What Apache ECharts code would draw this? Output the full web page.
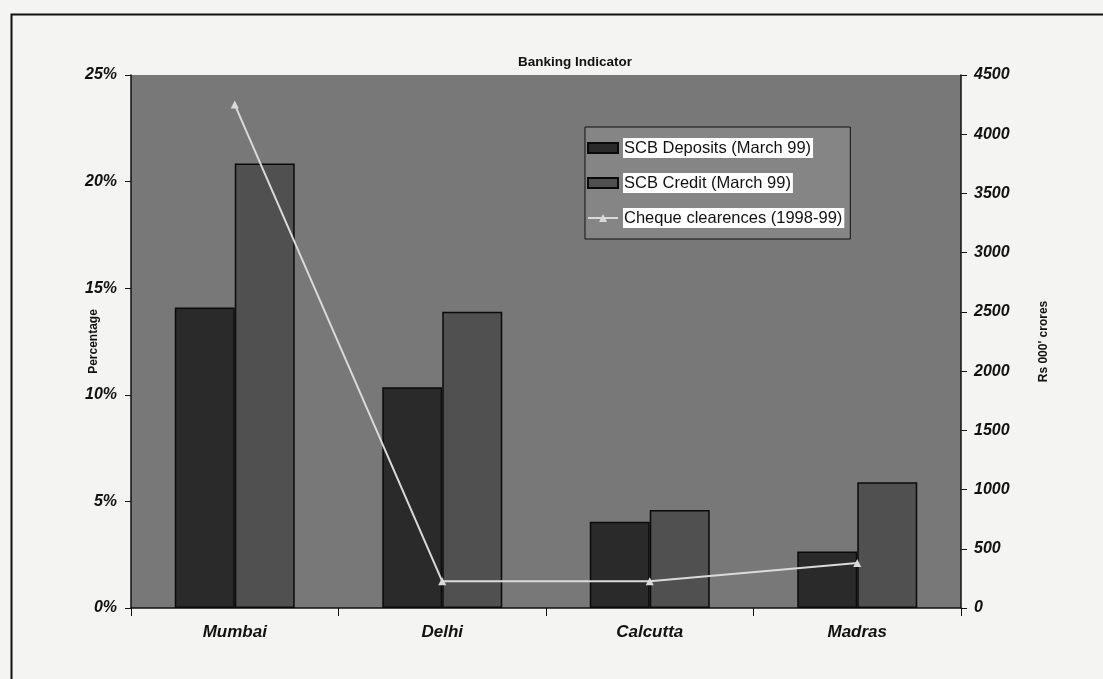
<!DOCTYPE html>
<html><head><meta charset="utf-8">
<script src="https://cdn.jsdelivr.net/npm/echarts@6/dist/echarts.min.js"></script>
<style>html,body{margin:0;padding:0;background:#f4f4f2;}#c{width:1103px;height:679px;}</style>
</head><body><div id="c"></div>
<script>
const categories = ['Mumbai', 'Delhi', 'Calcutta', 'Madras'];
const deposits = [14.1, 10.35, 4.05, 2.65];      // % SCB Deposits (March 99)
const credit = [20.85, 13.9, 4.6, 5.9];          // % SCB Credit (March 99)
const cheques = [4250, 225, 225, 380];           // Rs 000' crores, Cheque clearences (1998-99)
const leftTicks = [0, 5, 10, 15, 20, 25];
const rightTicks = [0, 500, 1000, 1500, 2000, 2500, 3000, 3500, 4000, 4500];

const FONT = '"Liberation Sans", Arial, sans-serif';
const chart = echarts.init(document.getElementById('c'), null, {renderer: 'canvas'});
chart.setOption({
  backgroundColor: '#f4f4f2',
  animation: false,
  title: {
    text: 'Banking Indicator', left: 570, top: 50, textAlign: 'center',
    textStyle: {fontFamily: FONT, fontSize: 13.5, fontWeight: 'bold', color: '#111'}
  },
  graphic: [{
    type: 'rect', left: 9, top: 12, z: -1,
    shape: {width: 1200, height: 800},
    style: {fill: 'none', stroke: '#111', lineWidth: 2}
  }],
  grid: {left: 131, right: 1103 - 961, top: 75, bottom: 679 - 608, backgroundColor: '#787878', show: true, borderWidth: 0},
  legend: {
    orient: 'vertical', left: 585, top: 127, itemGap: 15, itemWidth: 30, itemHeight: 10,
    padding: [11, 6, 11, 2],
    backgroundColor: '#858585', borderColor: '#111', borderWidth: 1,
    textStyle: {fontFamily: FONT, fontSize: 16.5, color: '#111', backgroundColor: '#fff', padding: [2, 2, 1, 1]},
    data: [
      {name: 'SCB Deposits (March 99)', icon: 'rect'},
      {name: 'SCB Credit (March 99)', icon: 'rect'},
      {name: 'Cheque clearences (1998-99)'}
    ]
  },
  xAxis: {
    type: 'category', data: categories,
    axisLine: {lineStyle: {color: '#111', width: 1.5}},
    axisTick: {show: true, alignWithLabel: false, length: 8, lineStyle: {color: '#111'}},
    axisLabel: {fontFamily: FONT, fontSize: 17, fontWeight: 'bold', fontStyle: 'italic', color: '#111', margin: 16},
    splitLine: {show: false}
  },
  yAxis: [{
    type: 'value', min: 0, max: 25, interval: 5,
    name: 'Percentage', nameLocation: 'middle', nameGap: 31, nameRotate: 90, nameMoveOverlap: false,
    nameTextStyle: {fontFamily: FONT, fontSize: 12, fontWeight: 'bold', color: '#111'},
    axisLine: {show: true, lineStyle: {color: '#111', width: 1.5}},
    axisTick: {show: true, length: 6, lineStyle: {color: '#111'}},
    axisLabel: {fontFamily: FONT, fontSize: 16, fontWeight: 'bold', fontStyle: 'italic', color: '#111', margin: 14,
      formatter: v => leftTicks.includes(v) ? v + '%' : ''},
    splitLine: {show: false}
  }, {
    type: 'value', min: 0, max: 4500, interval: 500, position: 'right',
    name: "Rs 000' crores", nameLocation: 'middle', nameGap: 77, nameRotate: 90, nameMoveOverlap: false,
    nameTextStyle: {fontFamily: FONT, fontSize: 12, fontWeight: 'bold', color: '#111'},
    axisLine: {show: true, lineStyle: {color: '#111', width: 1.5}},
    axisTick: {show: true, length: 6, lineStyle: {color: '#111'}},
    axisLabel: {fontFamily: FONT, fontSize: 16, fontWeight: 'bold', fontStyle: 'italic', color: '#111', margin: 13,
      formatter: v => rightTicks.includes(v) ? String(v) : ''},
    splitLine: {show: false}
  }],
  series: [{
    name: 'SCB Deposits (March 99)', type: 'bar', data: deposits, barWidth: 60, barGap: '0%',
    itemStyle: {color: '#2a2a2a', borderColor: '#0a0a0a', borderWidth: 1.5}
  }, {
    name: 'SCB Credit (March 99)', type: 'bar', data: credit, barWidth: 60,
    itemStyle: {color: '#505050', borderColor: '#0a0a0a', borderWidth: 1.5}
  }, {
    name: 'Cheque clearences (1998-99)', type: 'line', yAxisIndex: 1, data: cheques,
    symbol: 'triangle', symbolSize: 8,
    lineStyle: {color: '#dadada', width: 2},
    itemStyle: {color: '#dadada'}
  }]
});
</script></body></html>
